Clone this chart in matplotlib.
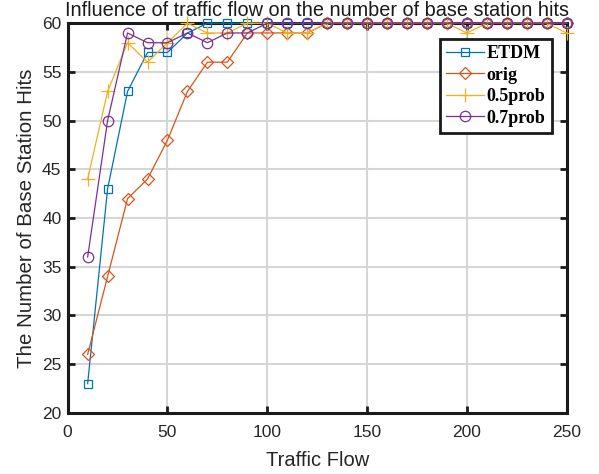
import numpy as np
import matplotlib
matplotlib.use("Agg")
import matplotlib.pyplot as plt

flow = list(range(10, 260, 10))

etdm = [23, 43, 53, 57, 57, 59, 60, 60, 60, 60, 60, 60, 60,
        60, 60, 60, 60, 60, 60, 60, 60, 60, 60, 60, 60]
orig = [26, 34, 42, 44, 48, 53, 56, 56, 59, 59, 59, 59, 60,
        60, 60, 60, 60, 60, 60, 60, 60, 60, 60, 60, 60]
prob05 = [44, 53, 58, 56, 58, 60, 59, 59, 60, 60, 59, 59, 60,
          60, 60, 60, 60, 60, 60, 59, 60, 60, 60, 60, 59]
prob07 = [36, 50, 59, 58, 58, 59, 58, 59, 59, 60, 60, 60, 60,
          60, 60, 60, 60, 60, 60, 60, 60, 60, 60, 60, 60]

series_names = ["ETDM", "orig", "0.5prob", "0.7prob"]
x_ticks = [0, 50, 100, 150, 200, 250]
y_ticks = [20, 25, 30, 35, 40, 45, 50, 55, 60]

plt.rcParams["font.family"] = ["Liberation Sans", "DejaVu Sans"]

fig = plt.figure(figsize=(5.99, 4.74), dpi=100)
ax = fig.add_axes([0.113, 0.129, 0.833, 0.822])

styles = [
    dict(color="#0072BD", marker="s", ms=6),
    dict(color="#D95319", marker="D", ms=6.5),
    dict(color="#EDB120", marker="+", ms=9.5),
    dict(color="#7E2F8E", marker="o", ms=7.5),
]
for vals, name, st in zip([etdm, orig, prob05, prob07], series_names, styles):
    ax.plot(flow, vals, color=st["color"], marker=st["marker"], ms=st["ms"],
            mfc="none", mec=st["color"], mew=0.9, lw=0.9, label=name,
            clip_on=False, zorder=3)

ax.set_xlim(0, 250)
ax.set_ylim(20, 60)
ax.set_xticks(x_ticks)
ax.set_yticks(y_ticks)
ax.grid(True, color="#d6d6d6", lw=1.5)
ax.set_axisbelow(True)
for sp in ax.spines.values():
    sp.set_linewidth(2.2)
    sp.set_color("#1a1a1a")
    sp.set_zorder(2.5)
ax.tick_params(direction="in", length=5, width=2, top=True, right=True,
               labelsize=12.5, labelcolor="#262626", color="#1a1a1a")
ax.tick_params(axis="x", pad=8.5)
ax.tick_params(axis="y", pad=4.5)

ax.set_title("Influence of traffic flow on the number of base station hits",
             fontsize=14.3, color="#1a1a1a", pad=5)
ax.set_xlabel("Traffic Flow", fontsize=14.5, color="#262626", labelpad=8.5)
ax.set_ylabel("The Number of Base Station Hits", fontsize=14.8, color="#262626",
              labelpad=4)

leg = ax.legend(loc="upper right", bbox_to_anchor=(0.9705, 0.9597),
                prop=dict(family="Liberation Serif", weight="bold", size=13),
                fancybox=False, framealpha=1, edgecolor="#1a1a1a",
                handlelength=2.1, handletextpad=0.15, borderpad=0.35,
                labelspacing=0.25, borderaxespad=0)
leg.get_frame().set_linewidth(2)

fig.savefig("out.png", dpi=100)
